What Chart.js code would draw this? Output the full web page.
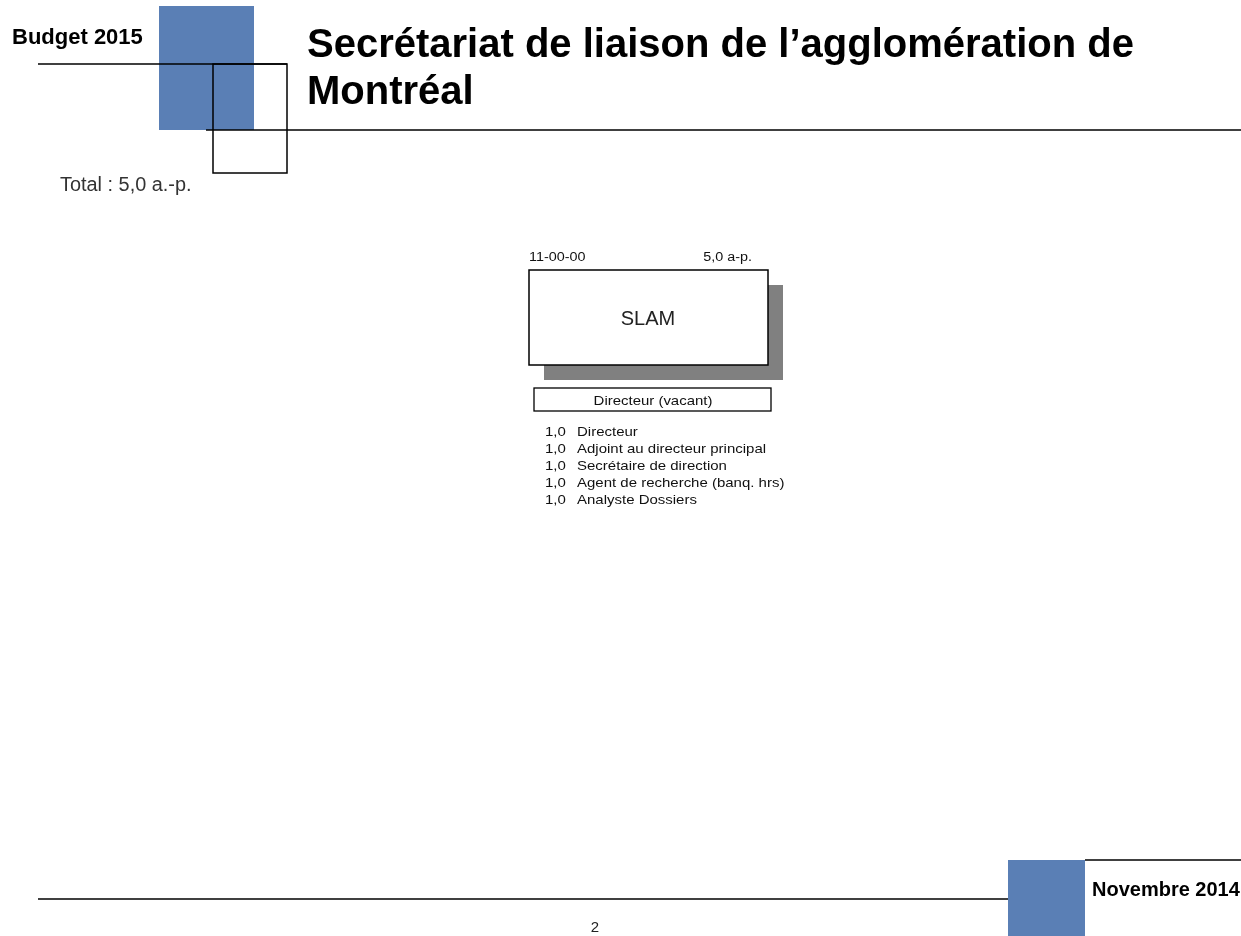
<!DOCTYPE html>
<html lang="fr">
<head>
<meta charset="utf-8">
<title>Secrétariat de liaison de l'agglomération de Montréal</title>
<script src="https://cdn.jsdelivr.net/npm/chart.js@4.4.1/dist/chart.umd.min.js"></script>
<style>
  html, body { margin: 0; padding: 0; background: #ffffff; overflow: hidden; }
  #wrap { position: relative; width: 1241px; height: 936px; }
  canvas { display: block; }
  .preload { position: absolute; left: -9999px; top: 0; font-family: "Liberation Sans"; }
</style>
</head>
<body>
<span class="preload">Aa</span><span class="preload" style="font-weight:bold">Aa</span>
<div id="wrap"><canvas id="c" width="1241" height="936"></canvas></div>
<script>
// ---- Data ----
const budgetLabel = 'Budget 2015';
const titleLines = ['Secrétariat de liaison de l\u2019agglomération de', 'Montréal'];
const totalFte = [5.0];
const unitCode = ['11-00-00'];
const unitName = ['SLAM'];
const headTitle = ['Directeur (vacant)'];
const positionTitles = [
  'Directeur',
  'Adjoint au directeur principal',
  'Secrétaire de direction',
  'Agent de recherche (banq. hrs)',
  'Analyste Dossiers'
];
const positionFte = [1.0, 1.0, 1.0, 1.0, 1.0];
const dateLabel = 'Novembre 2014';
const pageNumber = ['2'];

// ---- Helpers ----
const fmt = v => v.toFixed(1).replace('.', ',');
const FONT = '"Liberation Sans", Arial, sans-serif';
const BLUE = '#5a7fb5';

const pagePlugin = {
  id: 'orgPage',
  afterDraw(chart) {
    const ctx = chart.ctx;
    const xs = chart.scales.x, ys = chart.scales.y;
    const X = v => xs.getPixelForValue(v);
    const Y = v => ys.getPixelForValue(v);
    const rect = (x0, y0, x1, y1) => [X(x0), Y(y0), X(x1) - X(x0), Y(y1) - Y(y0)];
    const line = (x0, y0, x1, y1) => { ctx.beginPath(); ctx.moveTo(X(x0), Y(y0)); ctx.lineTo(X(x1), Y(y1)); ctx.stroke(); };
    const text = (s, x, y, font, align, color, sx) => {
      ctx.save();
      ctx.font = font; ctx.textAlign = align || 'left'; ctx.textBaseline = 'alphabetic';
      ctx.fillStyle = color || '#000';
      ctx.translate(X(x), Y(y));
      ctx.scale(sx || 1, 1);
      ctx.fillText(s, 0, 0);
      ctx.restore();
    };

    ctx.save();
    // ---- Header decorations ----
    ctx.fillStyle = BLUE;
    ctx.fillRect(...rect(159, 6, 254, 130));
    ctx.strokeStyle = '#000';
    ctx.lineWidth = 1.5;
    line(38, 64, 287, 64);
    ctx.strokeRect(...rect(213, 64, 287, 173));
    line(206, 130, 1241, 130);

    text(budgetLabel, 12, 44, 'bold 22px ' + FONT);
    text(titleLines[0], 307, 57, 'bold 40px ' + FONT);
    text(titleLines[1], 307, 104, 'bold 40px ' + FONT);
    text('Total : ' + fmt(totalFte[0]) + ' a.-p.', 60, 191, '19.5px ' + FONT, 'left', '#333', 1.02);

    // ---- Unit box ----
    ctx.fillStyle = '#808080';
    ctx.fillRect(...rect(544, 285, 783, 380));
    ctx.fillStyle = '#fff';
    ctx.fillRect(...rect(529, 270, 768, 365));
    ctx.lineWidth = 1.5;
    ctx.strokeRect(...rect(529, 270, 768, 365));
    text(unitCode[0], 529, 261, '12.5px ' + FONT, 'left', '#111', 1.15);
    const sumFte = positionFte.reduce((a, b) => a + b, 0);
    text(fmt(sumFte) + ' a-p.', 752, 261, '12.5px ' + FONT, 'right', '#111', 1.15);
    text(unitName[0], 648, 325, '20px ' + FONT, 'center', '#222');

    // ---- Head box ----
    ctx.lineWidth = 1.3;
    ctx.strokeRect(...rect(534, 388, 771, 411));
    text(headTitle[0], 653, 405, '13px ' + FONT, 'center', '#111', 1.15);

    // ---- Positions list ----
    positionTitles.forEach((t, i) => {
      const yb = 435.5 + i * 17;
      text(fmt(positionFte[i]), 545, yb, '13.5px ' + FONT, 'left', '#111', 1.11);
      text(t, 577, yb, '13.5px ' + FONT, 'left', '#111', 1.11);
    });

    // ---- Footer ----
    ctx.strokeStyle = '#000';
    ctx.lineWidth = 1.5;
    line(38, 899, 1008, 899);
    ctx.fillStyle = BLUE;
    ctx.fillRect(...rect(1008, 860, 1085, 936));
    line(1085, 860, 1241, 860);
    text(dateLabel, 1092, 896, 'bold 20px ' + FONT);
    text(pageNumber[0], 595, 932, '15px ' + FONT, 'center', '#222');
    ctx.restore();
  }
};

function build() {
  new Chart(document.getElementById('c'), {
    type: 'scatter',
    data: { datasets: [{ data: [], pointRadius: 0 }] },
    options: {
      responsive: false,
      animation: false,
      layout: { padding: 0 },
      plugins: { legend: { display: false }, tooltip: { enabled: false }, title: { display: false } },
      scales: {
        x: { type: 'linear', min: 0, max: 1241, display: false },
        y: { type: 'linear', min: 0, max: 936, reverse: true, display: false }
      }
    },
    plugins: [pagePlugin]
  });
}

Promise.all([
  document.fonts.load('20px "Liberation Sans"'),
  document.fonts.load('bold 20px "Liberation Sans"')
]).then(build, build);
</script>
</body>
</html>
